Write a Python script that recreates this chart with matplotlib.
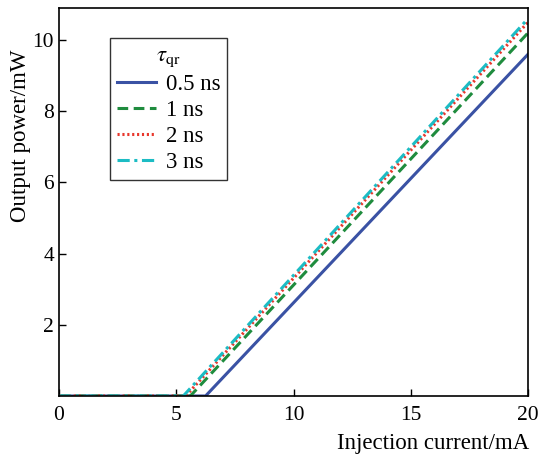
import matplotlib
matplotlib.use("Agg")
import matplotlib.pyplot as plt

plt.rcParams['font.family'] = ['Liberation Serif', 'DejaVu Serif']
plt.rcParams['mathtext.fontset'] = 'stix'

labels = ['0.5 ns', '1 ns', '2 ns', '3 ns']
currents = [[0, 6.25, 20], [0, 5.6, 20], [0, 5.4, 20], [0, 5.3, 20]]
powers = [[0, 0, 9.6], [0, 0, 10.2], [0, 0, 10.5], [0, 0, 10.6]]
colors = ['#3a52a4', '#1f8c3e', '#e8372c', '#1cbcc4']
styles = ['-', (0, (3.5, 1.8)), (0, (0.7, 0.9)), (0, (4, 1.5, 1, 1.5))]

fig = plt.figure(figsize=(5.39, 4.54), dpi=100)
ax = fig.add_axes([59 / 539, 58 / 454, 469 / 539, 388 / 454])

for x, y, c, ls, lab in zip(currents, powers, colors, styles, labels):
    ax.plot(x, y, color=c, linestyle=ls, linewidth=2.2, label=lab)

ax.set_xlim(0, 20)
ax.set_ylim(0, 10.9)
ax.set_xticks([0, 5, 10, 15, 20])
ax.set_yticks([2, 4, 6, 8, 10])
ax.tick_params(direction='in', labelsize=15.5, length=5, width=1)
ax.tick_params(axis='x', pad=7)
for s in ax.spines.values():
    s.set_linewidth(1.2)
ax.set_xlabel('Injection current/mA', fontsize=16.5)
ax.xaxis.set_label_coords(0.797, -0.095)
ax.set_ylabel('Output power/mW', fontsize=16.5)
ax.yaxis.set_label_coords(-0.06, 0.67)

leg = ax.legend(title=r'$\tau_{\rm qr}$', loc='upper left', bbox_to_anchor=(0.109, 0.923),
                borderaxespad=0, fontsize=16.4, title_fontsize=16.4, frameon=True,
                fancybox=False, edgecolor='black', handlelength=1.7, handletextpad=0.45,
                borderpad=0.3, labelspacing=0.22)
leg.get_frame().set_linewidth(1.0)

fig.savefig('out.png', dpi=100)
